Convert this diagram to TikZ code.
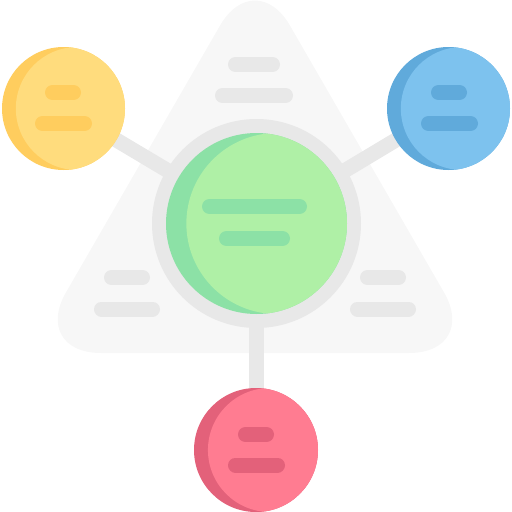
\documentclass[tikz,border=0pt]{standalone}
\usetikzlibrary{backgrounds}
\definecolor{trifill}{HTML}{F7F7F7}
\definecolor{linegray}{HTML}{E8E8E8}
\definecolor{yellight}{HTML}{FFDC7D}
\definecolor{yeldark}{HTML}{FFCD5E}
\definecolor{blulight}{HTML}{7DC2EE}
\definecolor{bludark}{HTML}{60AADB}
\definecolor{redlight}{HTML}{FF7C91}
\definecolor{reddark}{HTML}{E3617A}
\definecolor{grnlight}{HTML}{AFF0A6}
\definecolor{grndark}{HTML}{8CE1A6}
\pgfdeclarelayer{tri}
\pgfsetlayers{tri,background,main}
\begin{document}
\begin{tikzpicture}[x=1pt,y=-1pt,
  bubble/.style n args={3}{circle, inner sep=0pt, minimum size=2*#1, fill=#2,
    path picture={\fill[#3] ([xshift=0.225*#1]path picture bounding box.center) circle (#1);}},
  bar/.style={line width=15, line cap=round},
  link/.style={line width=15, draw=linegray}]
\useasboundingbox (0,0) rectangle (512,512);
\begin{pgfonlayer}{tri}
\fill[trifill, rounded corners=70] (255,353) -- (479,353) -- (255,-35) -- (31,353) -- cycle;
\end{pgfonlayer}
\draw[bar, linegray] (235.5,64.5) -- (272.5,64.5);
\draw[bar, linegray] (222.5,95.5) -- (285.5,95.5);
\draw[bar, linegray] (111.5,277.5) -- (142.5,277.5);
\draw[bar, linegray] (101.5,309) -- (152.5,309);
\draw[bar, linegray] (367.5,277.5) -- (398.5,277.5);
\draw[bar, linegray] (357.5,309) -- (408.5,309);
\node[circle, inner sep=0pt, minimum size=209, fill=linegray] (hub) at (256.5,223.5){};
\node[bubble={90.5}{grndark}{grnlight}] (grn) at (256.5,223.5){};
\node[bubble={61.5}{yeldark}{yellight}] (yel) at (63.5,108.5){};
\node[bubble={61.5}{bludark}{blulight}] (blu) at (448.5,108.5){};
\node[bubble={62}{reddark}{redlight}] (red) at (256,450){};
\begin{pgfonlayer}{background}
\draw[link] (yel.center) -- (hub.center);
\draw[link] (blu.center) -- (hub.center);
\draw[link] (red.center) -- (red.center |- hub.center);
\end{pgfonlayer}
\draw[bar, grndark] (209.5,206.5) -- (299.5,206.5);
\draw[bar, grndark] (226.5,238.5) -- (282.5,238.5);
\draw[bar, yeldark] (52.5,92.5) -- (73.5,92.5);
\draw[bar, yeldark] (42.5,123.5) -- (84.5,123.5);
\draw[bar, bludark] (438.5,92.5) -- (459.5,92.5);
\draw[bar, bludark] (428.5,123.5) -- (470.5,123.5);
\draw[bar, reddark] (245.5,434.5) -- (266.5,434.5);
\draw[bar, reddark] (235.5,465) -- (277.5,465);
\end{tikzpicture}
\end{document}
